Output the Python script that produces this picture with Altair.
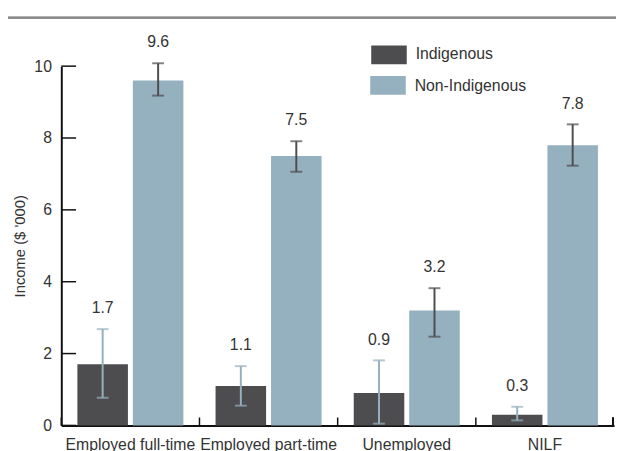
import altair as alt
import pandas as pd

categories = ["Employed full-time", "Employed part-time", "Unemployed", "NILF"]
series = ["Indigenous", "Non-Indigenous"]
indigenous = [1.7, 1.1, 0.9, 0.3]
indigenous_lo = [0.77, 0.55, 0.05, 0.14]
indigenous_hi = [2.68, 1.65, 1.81, 0.52]
non_indigenous = [9.6, 7.5, 3.2, 7.8]
non_indigenous_lo = [9.18, 7.06, 2.47, 7.23]
non_indigenous_hi = [10.08, 7.91, 3.82, 8.38]
y_ticks = [0, 2, 4, 6, 8, 10]

rows = []
for i, c in enumerate(categories):
    rows.append({"category": c, "series": series[0], "value": indigenous[i],
                 "lo": indigenous_lo[i], "hi": indigenous_hi[i]})
    rows.append({"category": c, "series": series[1], "value": non_indigenous[i],
                 "lo": non_indigenous_lo[i], "hi": non_indigenous_hi[i]})
df = pd.DataFrame(rows)

DARK = "#4d4d4f"
LIGHT = "#95b0be"
FONT = "Liberation Sans"
TXT = "#333333"
FS = 16

xenc = alt.X("category:N", sort=categories, title=None,
             scale=alt.Scale(paddingInner=0, paddingOuter=0),
             axis=alt.Axis(labelAngle=0, tickSize=0, labelPadding=11, labelFontSize=FS,
                           labelColor=TXT, domainColor="#111111", domainWidth=2,
                           labelFont=FONT))
xoff = alt.XOffset("series:N", sort=series,
                   scale=alt.Scale(paddingInner=0.089, paddingOuter=0.29))
yscale = alt.Scale(domain=[0, 10], nice=False)

base = alt.Chart(df)

bars = base.mark_bar().encode(
    x=xenc, xOffset=xoff,
    y=alt.Y("value:Q", scale=yscale, title="Income ($ '000)",
            axis=alt.Axis(values=y_ticks, tickSize=0, grid=False, labelPadding=10,
                          labelFontSize=FS, labelColor=TXT, titleFontSize=15,
                          titleFontWeight="normal", titleColor=TXT, titlePadding=6,
                          domainColor="#111111", domainWidth=2, labelFont=FONT,
                          titleFont=FONT)),
    color=alt.Color("series:N", sort=series,
                    scale=alt.Scale(domain=series, range=[DARK, LIGHT]), legend=None),
)

err_color = alt.Color("series:N", sort=series,
                      scale=alt.Scale(domain=series, range=[LIGHT, DARK]), legend=None)

err_rule = base.mark_rule(strokeWidth=2, clip=False).encode(
    x=alt.X("category:N", sort=categories), xOffset=xoff,
    y=alt.Y("lo:Q", scale=yscale), y2="hi:Q", color=err_color,
)
err_top = base.mark_tick(thickness=2, size=12, clip=False).encode(
    x=alt.X("category:N", sort=categories), xOffset=xoff,
    y=alt.Y("hi:Q", scale=yscale), color=err_color,
)
err_bot = base.mark_tick(thickness=2, size=12, clip=False).encode(
    x=alt.X("category:N", sort=categories), xOffset=xoff,
    y=alt.Y("lo:Q", scale=yscale), color=err_color,
)

labels = base.mark_text(dy=-21, fontSize=FS, color=TXT, font=FONT, clip=False).encode(
    x=alt.X("category:N", sort=categories), xOffset=xoff,
    y=alt.Y("hi:Q", scale=yscale),
    text=alt.Text("value:Q", format=".1f"),
)

ytick_df = pd.DataFrame({"t": y_ticks})
yticks = alt.Chart(ytick_df).mark_rule(color="#111111", strokeWidth=1.5).encode(
    y=alt.Y("t:Q", scale=yscale), x=alt.value(0), x2=alt.value(15))

xtick_df = pd.DataFrame({"category": categories})
xticks = alt.Chart(xtick_df).mark_rule(color="#111111", strokeWidth=1.5).encode(
    x=alt.X("category:N", sort=categories, bandPosition=0),
    y=alt.value(364), y2=alt.value(356))
xtick_end = alt.Chart(xtick_df).mark_rule(color="#111111", strokeWidth=1.5).encode(
    x=alt.value(559), y=alt.value(364), y2=alt.value(356))

top_line = alt.Chart(xtick_df).mark_rule(color="#8c8c8c", strokeWidth=2, clip=False).encode(
    x=alt.value(-60), x2=alt.value(562), y=alt.value(-49))

leg_df0 = pd.DataFrame({"series": [series[0]]})
leg_df1 = pd.DataFrame({"series": [series[1]]})
leg_rect0 = alt.Chart(leg_df0).mark_rect(color=DARK, clip=False).encode(
    x=alt.value(314), x2=alt.value(350), y=alt.value(-21), y2=alt.value(-2))
leg_rect1 = alt.Chart(leg_df1).mark_rect(color=LIGHT, clip=False).encode(
    x=alt.value(313), x2=alt.value(349), y=alt.value(10), y2=alt.value(29))
leg_text0 = alt.Chart(leg_df0).mark_text(align="left", baseline="middle", fontSize=FS,
                                         color=TXT, font=FONT, clip=False).encode(
    x=alt.value(359), y=alt.value(-12), text="series:N")
leg_text1 = alt.Chart(leg_df1).mark_text(align="left", baseline="middle", fontSize=FS,
                                         color=TXT, font=FONT, clip=False).encode(
    x=alt.value(358), y=alt.value(20), text="series:N")

chart = alt.layer(
    bars, err_rule, err_top, err_bot, labels, yticks, xticks, xtick_end, top_line,
    leg_rect0, leg_rect1, leg_text0, leg_text1
).resolve_scale(color="independent").properties(
    width=560, height=364,
    autosize=alt.AutoSizeParams(type="none"),
    padding={"left": 54, "top": 56, "right": 2, "bottom": 23},
).configure_view(stroke=None)

chart.save("out.html", embed_options={"renderer": "svg", "actions": False})
